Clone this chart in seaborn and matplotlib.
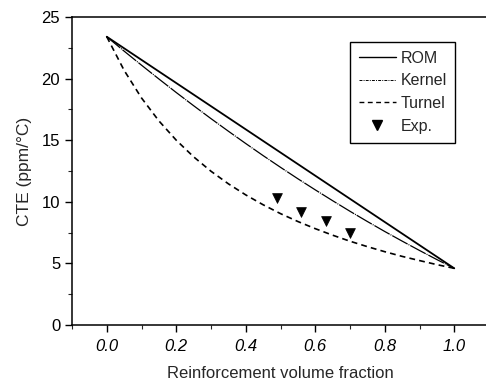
import matplotlib
matplotlib.use("Agg")
import matplotlib.pyplot as plt
import seaborn as sns
import pandas as pd
from matplotlib.ticker import MultipleLocator
from matplotlib.lines import Line2D

# Reinforcement volume fraction grid
vf = [0.00, 0.05, 0.10, 0.15, 0.20, 0.25, 0.30, 0.35, 0.40, 0.45, 0.50,
      0.55, 0.60, 0.65, 0.70, 0.75, 0.80, 0.85, 0.90, 0.95, 1.00]

# CTE predictions (ppm/°C)
cte_rom = [23.40, 22.46, 21.52, 20.58, 19.64, 18.70, 17.76, 16.82, 15.88, 14.94, 14.00,
           13.06, 12.12, 11.18, 10.24, 9.30, 8.36, 7.42, 6.48, 5.54, 4.60]
cte_kernel = [23.40, 22.23, 21.09, 19.97, 18.87, 17.80, 16.75, 15.73, 14.73, 13.75, 12.80,
              11.87, 10.97, 10.09, 9.23, 8.40, 7.59, 6.81, 6.05, 5.31, 4.60]
cte_turner = [23.40, 20.67, 18.43, 16.57, 15.00, 13.65, 12.48, 11.46, 10.56, 9.76, 9.04,
              8.40, 7.82, 7.29, 6.80, 6.36, 5.95, 5.57, 5.23, 4.90, 4.60]

# Measured values
exp_vf = [0.49, 0.56, 0.63, 0.70]
exp_cte = [10.3, 9.2, 8.45, 7.45]

x_ticks = [0.0, 0.2, 0.4, 0.6, 0.8, 1.0]
y_ticks = [0, 5, 10, 15, 20, 25]

sns.set_style("ticks")
plt.rcParams["font.family"] = ["Liberation Sans", "DejaVu Sans"]

fig = plt.figure(figsize=(4.86, 3.85), dpi=100)
ax = fig.add_axes([72 / 486, 60 / 385, 417 / 486, 308 / 385])

models = pd.DataFrame({"vf": vf, "rom": cte_rom, "kernel": cte_kernel, "turner": cte_turner})
exp = pd.DataFrame({"vf": exp_vf, "cte": exp_cte})

sns.lineplot(data=models, x="vf", y="rom", ax=ax, color="black", lw=1.3)
sns.lineplot(data=models, x="vf", y="kernel", ax=ax, color="black", lw=0.9)
ax.lines[-1].set_dashes((14, 0.8, 0.8, 0.8))
sns.lineplot(data=models, x="vf", y="turner", ax=ax, color="black", lw=1.2)
ax.lines[-1].set_dashes((3.5, 2.5))
sns.scatterplot(data=exp, x="vf", y="cte", ax=ax, marker="v", s=50,
                color="black", edgecolor="black", linewidth=0.5, zorder=5)

ax.set_xlim(-0.1, 1.1)
ax.set_ylim(0, 25)
ax.set_xticks(x_ticks)
ax.set_xticklabels([f"{t:.1f}" for t in x_ticks], style="italic")
ax.set_yticks(y_ticks)
ax.set_yticklabels([str(t) for t in y_ticks])
ax.xaxis.set_minor_locator(MultipleLocator(0.1))
ax.yaxis.set_minor_locator(MultipleLocator(2.5))
ax.tick_params(which="major", direction="out", length=5, width=1.0,
               labelsize=12, colors="black", top=False, right=False)
ax.tick_params(axis="x", which="major", pad=5)
ax.tick_params(which="minor", direction="out", length=3, width=0.8,
               top=False, right=False)
for side in ["left", "bottom", "top", "right"]:
    ax.spines[side].set_visible(True)
    ax.spines[side].set_color("black")
    ax.spines[side].set_linewidth(1.1)

ax.set_xlabel("Reinforcement volume fraction", fontsize=12, labelpad=9)
ax.set_ylabel("CTE (ppm/°C)", fontsize=12.5, labelpad=7)

handles = [
    Line2D([], [], color="black", lw=1.0),
    Line2D([], [], color="black", lw=0.7, dashes=(3, 1.2, 1, 1.2)),
    Line2D([], [], color="black", lw=1.0, dashes=(3.5, 2.5)),
    Line2D([], [], color="black", lw=0, marker="v", markersize=7.5),
]
leg = ax.legend(handles, ["ROM", "Kernel", "Turnel", "Exp."],
                loc="upper left", bbox_to_anchor=(0.667, 0.919),
                borderaxespad=0, fontsize=11.5, handlelength=2.3,
                handletextpad=0.3, borderpad=0.55, labelspacing=0.48,
                fancybox=False, framealpha=1, edgecolor="black")
leg.get_frame().set_linewidth(1.0)

fig.savefig("out.png", dpi=100)
